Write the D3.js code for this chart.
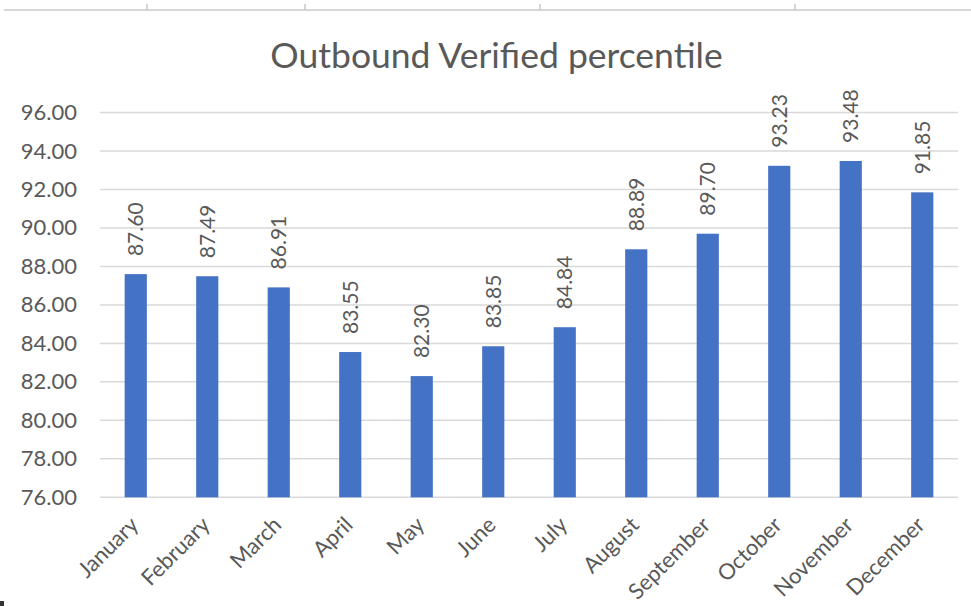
<!DOCTYPE html>
<html>
<head>
<meta charset="utf-8">
<script src="https://cdn.jsdelivr.net/npm/d3@7"></script>
<style>
  html, body { margin: 0; padding: 0; background: #ffffff; }
  svg { display: block; font-family: Lato, "Open Sans", sans-serif; }
</style>
</head>
<body>
<svg id="chart" width="971" height="606"></svg>
<script>
// Monthly outbound verified percentile
const months = ["January", "February", "March", "April", "May", "June",
                "July", "August", "September", "October", "November", "December"];
const values = [87.60, 87.49, 86.91, 83.55, 82.30, 83.85,
                84.84, 88.89, 89.70, 93.23, 93.48, 91.85];
const yTicks = [76, 78, 80, 82, 84, 86, 88, 90, 92, 94, 96];
const rulerMarks = [147, 305, 540, 795];
const title = "Outbound Verified percentile";

const svg = d3.select("#chart");
const W = 971, H = 606;
const textColor = "#595959";

// Ruler strip along the top edge
svg.append("line")
  .attr("x1", 4).attr("x2", W).attr("y1", 10).attr("y2", 10)
  .attr("stroke", "#d6d6d6").attr("stroke-width", 2);
svg.selectAll("line.rmark").data(rulerMarks).join("line")
  .attr("class", "rmark")
  .attr("x1", d => d).attr("x2", d => d)
  .attr("y1", 4).attr("y2", 10)
  .attr("stroke", "#c8c8c8").attr("stroke-width", 1.5);

// Plot area
const plot = { left: 100, right: 958, top: 112.5, bottom: 497.3 };

const x = d3.scaleBand()
  .domain(months)
  .range([plot.left, plot.right])
  .paddingInner(0.69)
  .paddingOuter(0.345);

const y = d3.scaleLinear()
  .domain([76, 96])
  .range([plot.bottom, plot.top]);

// Title
svg.append("text")
  .attr("x", 496.5)
  .attr("y", 68)
  .attr("text-anchor", "middle")
  .attr("fill", textColor)
  .attr("font-size", 35.5)
  .text(title);

// Gridlines
svg.append("g")
  .selectAll("line")
  .data(yTicks)
  .join("line")
  .attr("x1", plot.left).attr("x2", plot.right)
  .attr("y1", d => y(d)).attr("y2", d => y(d))
  .attr("stroke", "#d9d9d9").attr("stroke-width", 1.5);

// Y axis labels
const yAxis = d3.axisLeft(y)
  .tickValues(yTicks)
  .tickFormat(d3.format(".2f"))
  .tickSize(0)
  .tickPadding(0);
const gy = svg.append("g")
  .attr("transform", `translate(77,0)`)
  .call(yAxis);
gy.select(".domain").remove();
gy.selectAll("text")
  .attr("fill", textColor)
  .attr("font-size", 22)
  .attr("font-family", "Lato, sans-serif");

// Bars
svg.append("g")
  .selectAll("rect")
  .data(values)
  .join("rect")
  .attr("x", (d, i) => x(months[i]))
  .attr("width", x.bandwidth())
  .attr("y", d => y(d))
  .attr("height", d => y(76) - y(d))
  .attr("fill", "#4472c4");

// Value labels, rotated above each bar
svg.append("g")
  .selectAll("text")
  .data(values)
  .join("text")
  .attr("transform", (d, i) =>
    `translate(${x(months[i]) + x.bandwidth() / 2},${y(d) - 18}) rotate(-90)`)
  .attr("dy", "0.36em")
  .attr("text-anchor", "start")
  .attr("fill", textColor)
  .attr("font-size", 21)
  .text(d => d3.format(".2f")(d));

// Month labels, rotated 45 degrees
const xAxis = d3.axisBottom(x).tickSize(0).tickPadding(0);
const gx = svg.append("g")
  .attr("transform", `translate(0,${plot.bottom})`)
  .call(xAxis);
gx.select(".domain").remove();
gx.selectAll("text")
  .attr("fill", textColor)
  .attr("font-size", 22)
  .attr("font-family", "Lato, sans-serif")
  .attr("text-anchor", "end")
  .attr("dy", null)
  .attr("y", null)
  .attr("transform", "translate(4,29) rotate(-45)");

// Stray mark in the lower-left corner
svg.append("rect")
  .attr("x", 0).attr("y", 601).attr("width", 4).attr("height", 5)
  .attr("fill", "#333");
</script>
</body>
</html>
